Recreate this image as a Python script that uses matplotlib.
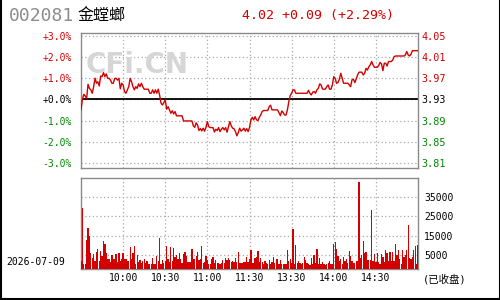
import numpy as np
import matplotlib
matplotlib.use('Agg')
import matplotlib.pyplot as plt
from matplotlib.lines import Line2D

# Dados do pregão (minuto a minuto, 9:30-11:30 / 13:00-15:00)
CODIGO = '002081'
NOME = '金螳螂'
DATA = '2026-07-09'
FECHAMENTO_ANT = 3.93
ULTIMO = 4.02
VARIACAO = 0.09

# variação % em relação ao fechamento anterior
pct = [
    -0.49, 0.0, 0.24, 0.16, 0.05, 0.71, 0.52, 0.45, 0.29, 0.6,
    1.0, 0.76, 0.83, 0.63, 1.1, 1.07, 1.26, 1.07, 1.2, 0.99,
    0.99, 0.91, 0.76, 0.76, 0.99, 0.99, 0.91, 0.99, 0.5, 0.76,
    0.68, 0.37, 0.29, 0.45, 0.6, 0.99, 0.83, 0.6, 0.45, 0.6,
    0.52, 0.73, 0.6, 0.76, 0.6, 0.48, 0.48, 0.48, 0.48, 0.29,
    0.29, 0.45, 0.29, 0.45, 0.29, 0.48, 0.2, -0.18, -0.26, -0.15,
    -0.02, -0.46, -0.34, -0.49, -0.65, -0.53, -0.68, -0.57, -0.77, -0.77,
    -0.77, -0.77, -0.77, -1.01, -1.01, -1.01, -1.01, -1.01, -1.01, -1.01,
    -1.24, -1.31, -1.1, -1.2, -1.46, -1.37, -1.48, -1.35, -1.49, -1.31,
    -1.04, -1.28, -1.32, -1.32, -1.32, -1.53, -1.4, -1.46, -1.32, -1.51,
    -1.4, -1.32, -1.43, -1.32, -1.54, -1.28, -1.04, -1.24, -1.35, -1.38,
    -1.51, -1.71, -1.56, -1.35, -1.49, -1.43, -1.35, -1.49, -1.37, -1.51,
    -1.32, -0.96, -0.84, -0.96, -0.81, -0.96, -0.99, -0.84, -0.73, -0.57,
    -0.52, -0.52, -0.52, -0.52, -0.34, -0.27, -0.49, -0.49, -0.49, -0.49,
    -0.49, -0.62, -0.76, -0.54, -0.62, -0.73, -0.73, -0.49, -0.1, 0.18,
    0.29, 0.45, 0.45, 0.29, 0.29, 0.29, 0.29, 0.29, 0.29, 0.29,
    0.29, 0.29, 0.43, 0.29, 0.21, 0.34, 0.37, 0.29, 0.45, 0.52,
    0.73, 0.68, 0.49, 0.48, 0.48, 0.6, 0.68, 0.48, 0.48, 0.68,
    1.07, 0.99, 0.76, 0.79, 0.95, 1.23, 0.99, 0.76, 0.76, 0.76,
    0.76, 0.68, 0.6, 0.92, 0.95, 0.79, 0.96, 1.15, 1.28, 1.28,
    1.28, 1.15, 1.23, 1.46, 1.38, 1.54, 1.62, 1.78, 1.62, 1.51,
    1.51, 1.51, 1.59, 1.74, 1.67, 1.35, 1.7, 1.7, 1.57, 1.78,
    1.78, 1.78, 1.85, 2.01, 2.04, 2.04, 2.04, 2.04, 2.04, 2.04,
    2.04, 2.09, 2.25, 2.09, 2.04, 2.12, 2.29, 2.29, 2.29, 2.29,
    2.29,
]

volume = [
    1900, 29400, 600, 400, 12800, 19200, 15000, 6200, 3500, 5500,
    2100, 6800, 8100, 1900, 7200, 4400, 12300, 10700, 6200, 2900,
    2900, 1600, 5200, 2800, 3100, 5500, 1400, 6200, 1700, 3100,
    5900, 2800, 3100, 2000, 2100, 9300, 2800, 6200, 9800, 500,
    5000, 1400, 2400, 800, 2100, 2800, 700, 2100, 300, 300,
    300, 3500, 200, 200, 4300, 1700, 13800, 300, 2400, 700,
    2100, 9700, 2800, 1400, 9300, 1700, 8500, 3800, 5000, 2800,
    6100, 2800, 700, 5500, 6600, 4300, 1400, 1400, 1400, 8100,
    2900, 2900, 4500, 6600, 2400, 2900, 9700, 1000, 1600, 4500,
    2400, 300, 300, 2800, 3800, 1000, 2400, 1000, 1000, 600,
    1000, 2400, 1000, 3300, 2400, 3600, 2400, 1600, 2100, 1600,
    3300, 1600, 6600, 700, 1000, 700, 1600, 1600, 3800, 1600,
    2800, 7600, 1000, 700, 3300, 3800, 7300, 1600, 3300, 1600,
    300, 2100, 700, 300, 2400, 300, 1600, 4200, 1000, 3100,
    3100, 300, 2400, 300, 300, 300, 300, 7600, 1900, 2800,
    700, 18500, 300, 10000, 1000, 1900, 1000, 300, 700, 3800,
    2600, 900, 400, 100, 3500, 600, 4900, 900, 8100, 500,
    3500, 600, 1400, 400, 100, 400, 900, 1700, 400, 400,
    10700, 11800, 8100, 4300, 2100, 3000, 400, 3800, 1700, 3000,
    900, 6900, 4300, 1700, 900, 900, 1700, 1700, 42800, 3500,
    5200, 12400, 6100, 6600, 2600, 2600, 2600, 28300, 1700, 5500,
    1400, 6100, 1400, 500, 5500, 4000, 1400, 7800, 6100, 1700,
    6600, 1700, 6600, 2100, 10700, 4900, 7800, 3100, 400, 7800,
    3800, 4900, 7800, 20400, 3500, 3000, 3800, 7800, 9500, 400,
    10400,
]

horarios = ['10:00', '10:30', '11:00', '11:30', '13:30', '14:00', '14:30']
pos_horarios = [30, 60, 90, 120, 150, 180, 210]
pct_ticks = [3, 2, 1, 0, -1, -2, -3]
vol_ticks = [35000, 25000, 15000, 5000]

VERMELHO = '#d40000'
VERDE = '#008800'
CINZA = '#8c8c8c'
MONO = 'DejaVu Sans Mono'

minutos = np.arange(len(pct))

fig = plt.figure(figsize=(5, 3), dpi=100)
fig.patch.set_facecolor('white')

# borda da imagem
fig.add_artist(Line2D([0.001, 0.001], [0, 1], color='black', lw=1.5, transform=fig.transFigure))
fig.add_artist(Line2D([0.999, 0.999], [0, 1], color='black', lw=1.5, transform=fig.transFigure))
fig.add_artist(Line2D([0, 1], [0.002, 0.002], color='black', lw=1.5, transform=fig.transFigure))

grid_kw = dict(color='#a8a8a8', linestyle=(0, (1, 2)), linewidth=0.9)

# ---- gráfico de preço ----
ax = fig.add_axes([0.162, 0.44, 0.674, 0.45])
ax.set_xlim(0, 240)
ax.set_ylim(-3.22, 3.12)
fig.text(0.274, 0.783, 'CFi.CN', fontsize=20, fontweight='bold', color='#d6d6d6',
         ha='center', va='center', family='DejaVu Sans', zorder=0)
ax.set_facecolor('none')
ax.plot(minutos, pct, color=VERMELHO, lw=1.0, zorder=3)
ax.axhline(0, color='black', lw=1.3, zorder=2)
ax.set_xticks(pos_horarios)
ax.set_xticklabels([])
ax.set_yticks(pct_ticks)
ax.set_yticklabels(['%+.1f%%' % p for p in pct_ticks], family=MONO, fontsize=7)
for lbl, p in zip(ax.get_yticklabels(), pct_ticks):
    lbl.set_color(VERMELHO if p > 0 else (VERDE if p < 0 else 'black'))
ax.tick_params(length=0, pad=6.5)
ax.grid(True, **grid_kw)
for s in ax.spines.values():
    s.set_color('#8a8a8a')
    s.set_linewidth(1.0)

ax2 = ax.twinx()
ax2.set_ylim(ax.get_ylim())
ax2.set_yticks(pct_ticks)
ax2.set_yticklabels(['%.2f' % (FECHAMENTO_ANT * (1 + p / 100)) for p in pct_ticks],
                    family=MONO, fontsize=7.3)
for lbl, p in zip(ax2.get_yticklabels(), pct_ticks):
    lbl.set_color(VERMELHO if p > 0 else (VERDE if p < 0 else 'black'))
ax2.tick_params(length=0, pad=2.7)
for s in ax2.spines.values():
    s.set_visible(False)

# ---- gráfico de volume ----
axv = fig.add_axes([0.162, 0.1033, 0.674, 0.3033])
vmin = -2230
axv.set_xlim(0, 240)
axv.set_ylim(vmin, 44920)
axv.bar(minutos, np.array(volume) - vmin, bottom=vmin, width=0.9, color=VERMELHO,
        linewidth=0, zorder=3)
axv.set_xticks(pos_horarios)
axv.set_xticklabels(horarios, family=MONO, fontsize=7)
axv.set_yticks(vol_ticks)
axv.yaxis.tick_right()
axv.set_yticklabels([str(v) for v in vol_ticks], family=MONO, fontsize=7)
axv.tick_params(length=0, pad=3)
axv.tick_params(axis='y', pad=4.3)
axv.grid(True, **grid_kw)
for s in axv.spines.values():
    s.set_color('#8a8a8a')
    s.set_linewidth(1.0)

# ---- textos ----
fig.text(0.018, 0.948, CODIGO, fontsize=13, family=MONO, color=CINZA, va='center')
fig.text(0.155, 0.948, NOME, fontsize=11.5, family=['Noto Sans CJK SC', 'DejaVu Sans'],
         color='black', va='center')
fig.text(0.483, 0.948, '%.2f %+.2f (%+.2f%%)' % (ULTIMO, VARIACAO, VARIACAO / FECHAMENTO_ANT * 100),
         fontsize=9.5, family=MONO, color=VERMELHO, va='center')
fig.text(0.013, 0.126, DATA, fontsize=7, family=MONO, color='black', va='center')
fig.text(0.846, 0.07, '(已收盘)', fontsize=7.5, family=[MONO, 'Noto Sans CJK SC'],
         color='black', va='center')

fig.savefig('out.png', dpi=100, facecolor='white')
